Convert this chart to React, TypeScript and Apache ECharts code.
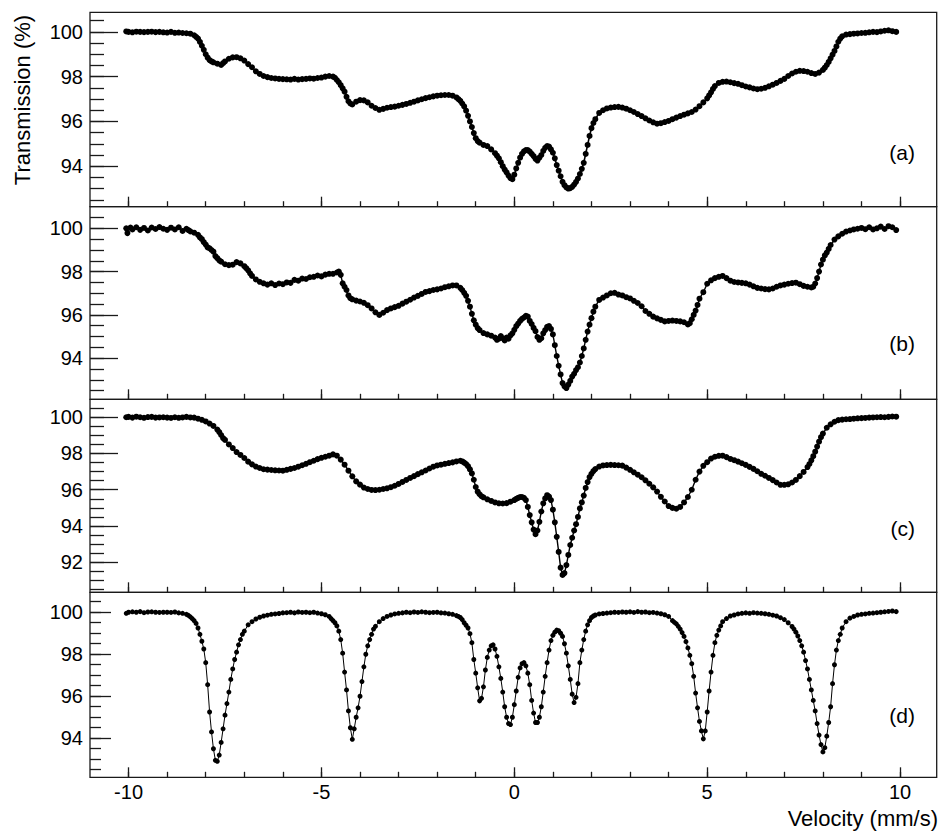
import { useEffect, useRef } from "react";
import * as echarts from "echarts";

// Mössbauer spectra: [velocity (mm/s), transmission (%)]
const spectrumA: [number, number][] = [
  [-10.06,100.02],[-10.0,100.0],[-9.9,99.98],[-9.8,100.01],[-9.7,100.0],[-9.6,99.99],[-9.5,100.0],[-9.4,100.01],[-9.3,99.99],[-9.2,100.0],
  [-9.1,99.98],[-9.0,99.97],[-8.9,100.0],[-8.8,99.96],[-8.7,99.97],[-8.6,99.95],[-8.5,99.94],[-8.4,99.92],[-8.3,99.85],[-8.25,99.78],
  [-8.2,99.7],[-8.15,99.55],[-8.1,99.38],[-8.05,99.2],[-8.0,99.0],[-7.95,98.85],[-7.9,98.74],[-7.85,98.68],[-7.8,98.64],[-7.7,98.58],
  [-7.6,98.52],[-7.55,98.6],[-7.5,98.68],[-7.4,98.8],[-7.3,98.86],[-7.2,98.87],[-7.1,98.82],[-7.0,98.72],[-6.9,98.56],[-6.8,98.42],
  [-6.7,98.24],[-6.6,98.12],[-6.5,98.03],[-6.4,97.98],[-6.3,97.94],[-6.2,97.92],[-6.1,97.9],[-6.0,97.89],[-5.9,97.88],[-5.8,97.87],
  [-5.7,97.9],[-5.6,97.87],[-5.5,97.89],[-5.4,97.9],[-5.3,97.92],[-5.2,97.91],[-5.1,97.94],[-5.0,97.96],[-4.9,98.0],[-4.8,98.03],
  [-4.7,98.0],[-4.65,97.95],[-4.6,97.85],[-4.55,97.75],[-4.5,97.62],[-4.45,97.48],[-4.4,97.33],[-4.35,97.1],[-4.3,96.9],[-4.25,96.8],
  [-4.2,96.76],[-4.1,96.88],[-4.0,96.95],[-3.9,96.94],[-3.8,96.85],[-3.7,96.7],[-3.6,96.6],[-3.5,96.52],[-3.4,96.56],[-3.3,96.61],
  [-3.2,96.64],[-3.1,96.66],[-3.0,96.7],[-2.9,96.74],[-2.8,96.78],[-2.7,96.83],[-2.6,96.88],[-2.5,96.94],[-2.4,96.99],[-2.3,97.04],
  [-2.2,97.08],[-2.1,97.12],[-2.0,97.15],[-1.9,97.17],[-1.8,97.18],[-1.7,97.18],[-1.6,97.15],[-1.5,97.07],[-1.45,97.0],[-1.4,96.92],
  [-1.35,96.8],[-1.3,96.67],[-1.25,96.48],[-1.2,96.25],[-1.15,96.0],[-1.1,95.75],[-1.05,95.48],[-1.0,95.25],[-0.95,95.12],[-0.9,95.05],
  [-0.8,94.95],[-0.7,94.9],[-0.6,94.75],[-0.5,94.58],[-0.45,94.47],[-0.4,94.35],[-0.35,94.18],[-0.3,94.0],[-0.25,93.85],[-0.2,93.72],
  [-0.15,93.58],[-0.1,93.47],[-0.05,93.42],[0.0,93.62],[0.05,93.9],[0.1,94.15],[0.15,94.38],[0.2,94.55],[0.25,94.66],[0.3,94.72],
  [0.35,94.72],[0.4,94.65],[0.45,94.55],[0.5,94.45],[0.55,94.33],[0.6,94.25],[0.65,94.38],[0.7,94.5],[0.75,94.68],[0.8,94.82],
  [0.85,94.9],[0.9,94.88],[0.95,94.75],[1.0,94.6],[1.05,94.35],[1.1,94.05],[1.15,93.8],[1.2,93.55],[1.25,93.3],[1.3,93.15],
  [1.35,93.05],[1.4,93.0],[1.45,93.02],[1.5,93.08],[1.55,93.18],[1.6,93.3],[1.65,93.45],[1.7,93.65],[1.75,93.88],[1.8,94.15],
  [1.85,94.55],[1.9,94.95],[1.95,95.35],[2.0,95.7],[2.05,95.93],[2.1,96.1],[2.2,96.38],[2.3,96.5],[2.4,96.58],[2.5,96.62],
  [2.6,96.64],[2.7,96.65],[2.8,96.62],[2.9,96.57],[3.0,96.5],[3.1,96.42],[3.2,96.33],[3.3,96.24],[3.4,96.14],[3.5,96.04],
  [3.6,95.96],[3.7,95.9],[3.8,95.92],[3.9,95.97],[4.0,96.02],[4.1,96.1],[4.2,96.17],[4.3,96.24],[4.4,96.3],[4.5,96.36],
  [4.6,96.42],[4.7,96.53],[4.8,96.68],[4.9,96.85],[5.0,97.03],[5.05,97.16],[5.1,97.3],[5.15,97.45],[5.2,97.58],[5.3,97.72],
  [5.4,97.77],[5.5,97.78],[5.6,97.75],[5.7,97.71],[5.8,97.68],[5.9,97.62],[6.0,97.56],[6.1,97.52],[6.2,97.47],[6.3,97.44],
  [6.4,97.46],[6.5,97.5],[6.6,97.57],[6.7,97.64],[6.8,97.72],[6.9,97.81],[7.0,97.9],[7.1,98.03],[7.2,98.14],[7.3,98.22],
  [7.4,98.26],[7.5,98.25],[7.6,98.22],[7.7,98.16],[7.8,98.12],[7.9,98.18],[8.0,98.3],[8.05,98.4],[8.1,98.52],[8.15,98.66],
  [8.2,98.82],[8.25,98.98],[8.3,99.15],[8.35,99.35],[8.4,99.56],[8.45,99.7],[8.5,99.8],[8.6,99.88],[8.7,99.9],[8.8,99.92],
  [8.9,99.93],[9.0,99.95],[9.1,99.96],[9.2,99.98],[9.3,100.0],[9.4,99.99],[9.5,100.02],[9.6,100.05],[9.7,100.07],[9.8,100.03],
  [9.9,100.0],
];

const spectrumB: [number, number][] = [
  [-10.06,100.0],[-10.03,99.78],[-9.95,100.04],[-9.9,99.95],[-9.8,100.05],[-9.7,99.93],[-9.6,100.02],[-9.5,99.9],[-9.4,100.04],[-9.3,99.97],
  [-9.2,100.06],[-9.1,99.98],[-9.0,99.93],[-8.9,100.03],[-8.8,99.95],[-8.7,100.05],[-8.6,99.88],[-8.5,99.98],[-8.45,99.92],[-8.4,99.86],
  [-8.3,99.8],[-8.2,99.7],[-8.15,99.58],[-8.1,99.5],[-8.05,99.36],[-8.0,99.25],[-7.95,99.12],[-7.9,99.08],[-7.85,99.0],[-7.8,98.92],
  [-7.75,98.72],[-7.7,98.62],[-7.65,98.52],[-7.6,98.46],[-7.5,98.34],[-7.4,98.3],[-7.3,98.32],[-7.2,98.44],[-7.1,98.38],[-7.0,98.25],
  [-6.95,98.16],[-6.9,98.06],[-6.85,97.92],[-6.8,97.8],[-6.7,97.64],[-6.6,97.53],[-6.5,97.46],[-6.4,97.4],[-6.3,97.46],[-6.2,97.38],
  [-6.1,97.45],[-6.0,97.42],[-5.9,97.5],[-5.8,97.48],[-5.7,97.62],[-5.6,97.58],[-5.5,97.68],[-5.4,97.66],[-5.3,97.74],[-5.2,97.76],
  [-5.1,97.82],[-5.0,97.78],[-4.9,97.86],[-4.8,97.9],[-4.7,97.9],[-4.6,97.96],[-4.55,98.0],[-4.5,97.85],[-4.45,97.46],[-4.4,97.3],
  [-4.35,97.15],[-4.3,96.9],[-4.25,96.77],[-4.2,96.72],[-4.1,96.66],[-4.0,96.62],[-3.9,96.56],[-3.8,96.45],[-3.7,96.3],[-3.6,96.12],
  [-3.5,96.0],[-3.4,96.1],[-3.3,96.22],[-3.2,96.3],[-3.1,96.36],[-3.0,96.42],[-2.9,96.52],[-2.8,96.61],[-2.7,96.7],[-2.6,96.8],
  [-2.5,96.88],[-2.4,96.97],[-2.3,97.06],[-2.2,97.1],[-2.1,97.15],[-2.0,97.18],[-1.9,97.22],[-1.8,97.28],[-1.7,97.32],[-1.6,97.36],
  [-1.5,97.36],[-1.4,97.25],[-1.35,97.15],[-1.3,97.02],[-1.25,96.88],[-1.2,96.65],[-1.15,96.38],[-1.1,96.05],[-1.05,95.75],[-1.0,95.55],
  [-0.95,95.39],[-0.9,95.3],[-0.8,95.16],[-0.7,95.1],[-0.6,95.04],[-0.5,94.95],[-0.45,94.85],[-0.4,94.9],[-0.35,95.02],[-0.3,94.92],
  [-0.25,94.82],[-0.2,94.95],[-0.15,94.9],[-0.1,95.05],[-0.05,95.15],[0.0,95.31],[0.05,95.48],[0.1,95.6],[0.15,95.72],[0.2,95.82],
  [0.25,95.88],[0.3,95.96],[0.35,95.92],[0.4,95.72],[0.45,95.58],[0.5,95.4],[0.55,95.25],[0.6,94.98],[0.65,94.85],[0.7,94.92],
  [0.75,95.15],[0.8,95.3],[0.85,95.45],[0.9,95.48],[0.95,95.35],[1.0,95.1],[1.05,94.6],[1.1,94.1],[1.15,93.65],[1.2,93.25],
  [1.25,92.85],[1.3,92.7],[1.35,92.62],[1.4,92.78],[1.45,92.95],[1.5,93.15],[1.55,93.28],[1.6,93.45],[1.65,93.58],[1.7,93.8],
  [1.75,94.1],[1.8,94.45],[1.85,94.85],[1.9,95.23],[1.95,95.55],[2.0,95.85],[2.05,96.15],[2.1,96.38],[2.2,96.69],[2.3,96.8],
  [2.4,96.9],[2.5,97.0],[2.6,97.02],[2.7,96.94],[2.8,96.9],[2.9,96.82],[3.0,96.76],[3.1,96.65],[3.2,96.55],[3.3,96.4],
  [3.4,96.18],[3.5,96.05],[3.6,95.92],[3.7,95.84],[3.8,95.77],[3.9,95.7],[4.0,95.72],[4.1,95.74],[4.2,95.72],[4.3,95.7],
  [4.4,95.66],[4.5,95.56],[4.55,95.62],[4.6,95.8],[4.65,96.0],[4.7,96.2],[4.75,96.46],[4.8,96.75],[4.9,97.05],[5.0,97.44],
  [5.1,97.6],[5.2,97.7],[5.3,97.76],[5.4,97.8],[5.5,97.7],[5.6,97.58],[5.7,97.52],[5.8,97.5],[5.9,97.48],[6.0,97.46],
  [6.1,97.4],[6.2,97.32],[6.3,97.25],[6.4,97.22],[6.5,97.19],[6.6,97.18],[6.7,97.22],[6.8,97.3],[6.9,97.36],[7.0,97.4],
  [7.1,97.44],[7.2,97.47],[7.3,97.49],[7.4,97.42],[7.5,97.34],[7.6,97.3],[7.7,97.27],[7.75,97.3],[7.8,97.45],[7.85,97.7],
  [7.9,98.0],[7.95,98.33],[8.0,98.55],[8.05,98.75],[8.1,98.88],[8.15,99.05],[8.2,99.23],[8.3,99.48],[8.4,99.63],[8.5,99.75],
  [8.6,99.85],[8.7,99.9],[8.8,99.95],[8.9,99.98],[9.0,100.02],[9.1,99.96],[9.2,100.05],[9.3,99.95],[9.4,100.0],[9.5,100.08],
  [9.6,99.97],[9.7,100.1],[9.8,100.05],[9.9,99.92],
];

const spectrumC: [number, number][] = [
  [-10.06,100.0],[-10.0,100.02],[-9.9,99.98],[-9.8,100.03],[-9.7,100.0],[-9.6,99.97],[-9.5,100.01],[-9.4,100.02],[-9.3,99.98],[-9.2,99.99],
  [-9.1,100.0],[-9.0,99.98],[-8.9,99.96],[-8.8,100.0],[-8.7,99.97],[-8.6,99.99],[-8.5,100.02],[-8.4,99.99],[-8.3,99.98],[-8.2,99.92],
  [-8.1,99.86],[-8.0,99.77],[-7.9,99.65],[-7.8,99.52],[-7.7,99.32],[-7.65,99.18],[-7.6,99.02],[-7.55,98.85],[-7.5,98.75],[-7.4,98.5],
  [-7.3,98.3],[-7.2,98.08],[-7.1,97.92],[-7.0,97.75],[-6.9,97.55],[-6.8,97.4],[-6.7,97.28],[-6.6,97.2],[-6.5,97.13],[-6.4,97.11],
  [-6.3,97.09],[-6.2,97.07],[-6.1,97.06],[-6.0,97.05],[-5.9,97.1],[-5.8,97.15],[-5.7,97.2],[-5.6,97.27],[-5.5,97.35],[-5.4,97.43],
  [-5.3,97.52],[-5.2,97.6],[-5.1,97.69],[-5.0,97.76],[-4.9,97.82],[-4.8,97.88],[-4.7,97.95],[-4.6,97.88],[-4.5,97.66],[-4.4,97.38],
  [-4.3,97.05],[-4.2,96.74],[-4.1,96.46],[-4.0,96.28],[-3.9,96.12],[-3.8,96.04],[-3.7,95.99],[-3.6,95.98],[-3.5,96.0],[-3.4,96.04],
  [-3.3,96.08],[-3.2,96.14],[-3.1,96.22],[-3.0,96.32],[-2.9,96.43],[-2.8,96.54],[-2.7,96.65],[-2.6,96.75],[-2.5,96.86],[-2.4,96.96],
  [-2.3,97.06],[-2.2,97.17],[-2.1,97.27],[-2.0,97.34],[-1.9,97.38],[-1.8,97.43],[-1.7,97.47],[-1.6,97.51],[-1.5,97.56],[-1.4,97.6],
  [-1.35,97.56],[-1.3,97.5],[-1.25,97.42],[-1.2,97.3],[-1.15,97.12],[-1.1,96.9],[-1.05,96.55],[-1.0,96.15],[-0.95,95.89],[-0.9,95.75],
  [-0.85,95.64],[-0.8,95.58],[-0.7,95.47],[-0.6,95.38],[-0.5,95.3],[-0.4,95.25],[-0.3,95.24],[-0.2,95.26],[-0.1,95.34],[0.0,95.43],
  [0.05,95.5],[0.1,95.55],[0.15,95.6],[0.2,95.6],[0.25,95.55],[0.3,95.43],[0.35,95.05],[0.4,94.6],[0.45,94.2],[0.5,93.8],
  [0.55,93.55],[0.6,93.75],[0.65,94.23],[0.7,94.8],[0.75,95.25],[0.8,95.52],[0.85,95.7],[0.9,95.62],[0.95,95.43],[1.0,94.9],
  [1.05,94.2],[1.1,93.4],[1.15,92.57],[1.2,91.7],[1.25,91.3],[1.3,91.4],[1.35,91.84],[1.4,92.4],[1.45,92.95],[1.5,93.35],
  [1.55,93.75],[1.6,94.1],[1.65,94.5],[1.7,94.97],[1.75,95.3],[1.8,95.68],[1.85,96.1],[1.9,96.42],[1.95,96.7],[2.0,96.88],
  [2.05,97.03],[2.1,97.14],[2.2,97.28],[2.3,97.34],[2.4,97.36],[2.5,97.37],[2.6,97.36],[2.7,97.35],[2.8,97.33],[2.9,97.22],
  [3.0,97.1],[3.1,96.96],[3.2,96.83],[3.3,96.69],[3.4,96.52],[3.5,96.33],[3.6,96.13],[3.7,95.9],[3.8,95.61],[3.9,95.35],
  [4.0,95.1],[4.1,95.0],[4.2,94.95],[4.3,95.05],[4.4,95.3],[4.5,95.6],[4.6,96.0],[4.7,96.55],[4.8,97.0],[4.9,97.32],
  [5.0,97.52],[5.1,97.72],[5.2,97.82],[5.3,97.87],[5.4,97.88],[5.5,97.8],[5.6,97.7],[5.7,97.63],[5.8,97.55],[5.9,97.46],
  [6.0,97.37],[6.1,97.26],[6.2,97.15],[6.3,97.02],[6.4,96.88],[6.5,96.77],[6.6,96.65],[6.7,96.53],[6.8,96.4],[6.9,96.27],
  [7.0,96.27],[7.1,96.3],[7.2,96.4],[7.3,96.54],[7.4,96.75],[7.5,96.98],[7.6,97.25],[7.65,97.42],[7.7,97.62],[7.75,97.85],
  [7.8,98.1],[7.85,98.38],[7.9,98.65],[7.95,98.9],[8.0,99.1],[8.1,99.42],[8.2,99.61],[8.3,99.75],[8.4,99.84],[8.5,99.87],
  [8.6,99.89],[8.7,99.9],[8.8,99.92],[8.9,99.94],[9.0,99.95],[9.1,99.96],[9.2,99.98],[9.3,99.99],[9.4,100.0],[9.5,100.01],
  [9.6,100.0],[9.7,100.02],[9.8,100.04],[9.9,100.03],
];

const spectrumD: [number, number][] = [
  [-10.06,99.95],[-10.0,100.0],[-9.9,100.02],[-9.8,100.0],[-9.7,100.03],[-9.6,99.98],[-9.5,100.01],[-9.4,100.02],[-9.3,100.0],[-9.2,99.99],
  [-9.1,100.0],[-9.0,100.0],[-8.9,99.99],[-8.8,100.01],[-8.7,99.97],[-8.6,99.95],[-8.5,99.9],[-8.45,99.85],[-8.4,99.78],[-8.35,99.7],
  [-8.3,99.6],[-8.25,99.47],[-8.2,99.25],[-8.15,98.95],[-8.1,98.62],[-8.05,98.25],[-8.0,97.6],[-7.95,96.55],[-7.9,95.25],[-7.85,94.3],
  [-7.8,93.5],[-7.75,92.95],[-7.7,92.9],[-7.65,93.2],[-7.6,93.8],[-7.55,94.45],[-7.5,95.1],[-7.45,95.65],[-7.4,96.2],[-7.35,96.8],
  [-7.3,97.3],[-7.25,97.75],[-7.2,98.1],[-7.15,98.45],[-7.1,98.7],[-7.05,98.95],[-7.0,99.1],[-6.9,99.4],[-6.8,99.55],[-6.7,99.68],
  [-6.6,99.76],[-6.5,99.82],[-6.4,99.86],[-6.3,99.9],[-6.2,99.92],[-6.1,99.94],[-6.0,99.97],[-5.9,99.98],[-5.8,100.0],[-5.7,99.97],
  [-5.6,100.01],[-5.5,99.99],[-5.4,100.0],[-5.3,99.98],[-5.2,100.0],[-5.1,99.96],[-5.0,99.93],[-4.9,99.88],[-4.8,99.8],[-4.75,99.7],
  [-4.7,99.6],[-4.65,99.5],[-4.6,99.35],[-4.55,99.1],[-4.5,98.7],[-4.45,98.05],[-4.4,97.15],[-4.35,96.3],[-4.3,95.3],[-4.25,94.5],
  [-4.2,93.95],[-4.15,94.45],[-4.1,95.0],[-4.05,95.45],[-4.0,96.0],[-3.95,96.7],[-3.9,97.4],[-3.85,98.0],[-3.8,98.4],[-3.75,98.7],
  [-3.7,98.95],[-3.65,99.2],[-3.6,99.33],[-3.5,99.55],[-3.4,99.7],[-3.3,99.8],[-3.2,99.87],[-3.1,99.92],[-3.0,99.95],[-2.9,99.97],
  [-2.8,100.0],[-2.7,99.98],[-2.6,100.01],[-2.5,99.99],[-2.4,100.02],[-2.3,100.0],[-2.2,99.98],[-2.1,99.99],[-2.0,100.0],[-1.9,99.97],
  [-1.8,99.96],[-1.7,99.93],[-1.6,99.9],[-1.5,99.84],[-1.45,99.8],[-1.4,99.75],[-1.35,99.65],[-1.3,99.5],[-1.25,99.38],[-1.2,99.25],
  [-1.15,98.98],[-1.1,98.55],[-1.05,97.75],[-1.0,97.1],[-0.95,96.4],[-0.9,95.78],[-0.85,95.9],[-0.8,96.45],[-0.75,97.25],[-0.7,97.85],
  [-0.65,98.2],[-0.6,98.4],[-0.55,98.45],[-0.5,98.25],[-0.45,97.9],[-0.4,97.4],[-0.35,96.85],[-0.3,96.2],[-0.25,95.5],[-0.2,95.0],
  [-0.15,94.7],[-0.1,94.65],[-0.05,95.0],[0.0,95.6],[0.05,96.25],[0.1,96.9],[0.15,97.35],[0.2,97.55],[0.25,97.6],[0.3,97.45],
  [0.35,97.1],[0.4,96.55],[0.45,95.8],[0.5,95.2],[0.55,94.75],[0.6,94.75],[0.65,95.0],[0.7,95.5],[0.75,96.2],[0.8,96.95],
  [0.85,97.6],[0.9,98.2],[0.95,98.65],[1.0,98.9],[1.05,99.05],[1.1,99.15],[1.15,99.12],[1.2,99.0],[1.25,98.85],[1.3,98.5],
  [1.35,98.05],[1.4,97.45],[1.45,96.8],[1.5,96.1],[1.55,95.7],[1.6,95.95],[1.65,96.6],[1.7,97.6],[1.75,98.2],[1.8,98.7],
  [1.85,99.1],[1.9,99.4],[1.95,99.6],[2.0,99.75],[2.05,99.82],[2.1,99.87],[2.2,99.92],[2.3,99.94],[2.4,99.96],[2.5,99.98],
  [2.6,100.0],[2.7,99.99],[2.8,100.01],[2.9,100.0],[3.0,100.02],[3.1,99.99],[3.2,100.03],[3.3,100.0],[3.4,100.01],[3.5,99.98],
  [3.6,99.99],[3.7,99.96],[3.8,99.93],[3.9,99.88],[4.0,99.8],[4.1,99.6],[4.15,99.52],[4.2,99.45],[4.25,99.33],[4.3,99.2],
  [4.35,99.03],[4.4,98.85],[4.45,98.6],[4.5,98.3],[4.55,97.95],[4.6,97.55],[4.65,96.95],[4.7,96.15],[4.75,95.45],[4.8,94.8],
  [4.85,94.35],[4.9,93.97],[4.95,94.35],[5.0,95.25],[5.05,96.25],[5.1,97.15],[5.15,97.95],[5.2,98.55],[5.25,98.9],[5.3,99.15],
  [5.35,99.35],[5.4,99.55],[5.5,99.7],[5.6,99.82],[5.7,99.87],[5.8,99.92],[5.9,99.95],[6.0,99.97],[6.1,99.95],[6.2,99.98],
  [6.3,99.96],[6.4,99.95],[6.5,99.93],[6.6,99.9],[6.7,99.86],[6.8,99.82],[6.9,99.74],[7.0,99.65],[7.1,99.5],[7.2,99.32],
  [7.25,99.2],[7.3,99.05],[7.35,98.87],[7.4,98.65],[7.45,98.4],[7.5,98.1],[7.55,97.7],[7.6,97.3],[7.65,96.8],[7.7,96.3],
  [7.75,95.8],[7.8,95.3],[7.85,94.7],[7.9,94.15],[7.95,93.7],[8.0,93.35],[8.05,93.55],[8.1,94.1],[8.15,94.75],[8.2,95.5],
  [8.25,96.6],[8.3,97.5],[8.35,98.2],[8.4,98.65],[8.45,98.95],[8.5,99.25],[8.6,99.55],[8.7,99.72],[8.8,99.8],[8.9,99.87],
  [9.0,99.9],[9.1,99.92],[9.2,99.95],[9.3,99.96],[9.4,99.98],[9.5,100.0],[9.6,100.02],[9.7,100.04],[9.8,100.06],[9.9,100.03],
];

const xMajorTicks = [-10, -5, 0, 5, 10];
const xMinorTicks = [-10, -9, -8, -7, -6, -5, -4, -3, -2, -1, 0, 1, 2, 3, 4, 5, 6, 7, 8, 9, 10];
const yMajorTicks = [94, 96, 98, 100];
const yMajorTicksC = [92, 94, 96, 98, 100];
const yMinorTicks = [92.5, 93, 93.5, 94, 94.5, 95, 95.5, 96, 96.5, 97, 97.5, 98, 98.5, 99, 99.5, 100, 100.5];
const yMinorTicksC = [90.5, 91, 91.5, 92, 92.5, 93, 93.5, 94, 94.5, 95, 95.5, 96, 96.5, 97, 97.5, 98, 98.5, 99, 99.5, 100, 100.5];
const panelLabels = ["(a)", "(b)", "(c)", "(d)"];
const yTitle = "Transmission (%)";
const xTitle = "Velocity (mm/s)";

const FONT = "'Liberation Sans', Arial, Helvetica, sans-serif";
const INK = "#1a1a1a";

export default function App() {
  const ref = useRef<HTMLDivElement>(null);

  useEffect(() => {
    if (!ref.current) return;
    const chart = echarts.init(ref.current, null, { renderer: "svg" });

    const panels = [
      { data: spectrumA, top: 12.3, height: 194.4, ymin: 92.19, ymax: 100.875, major: yMajorTicks, minor: yMinorTicks, yLen: 28, yMinLen: 14, labelY: 152, dot: 6, lw: 1.6 },
      { data: spectrumB, top: 206.7, height: 192.6, ymin: 92.1, ymax: 101.0, major: yMajorTicks, minor: yMinorTicks, yLen: 28, yMinLen: 14, labelY: 343, dot: 6, lw: 1.4 },
      { data: spectrumC, top: 399.3, height: 193.0, ymin: 90.34, ymax: 100.99, major: yMajorTicksC, minor: yMinorTicksC, yLen: 28, yMinLen: 14, labelY: 528, dot: 6, lw: 1.4 },
      { data: spectrumD, top: 592.3, height: 185.0, ymin: 92.14, ymax: 100.95, major: yMajorTicks, minor: yMinorTicks, yLen: 21, yMinLen: 11, labelY: 715, dot: 5, lw: 1 },
    ];

    const grid: any[] = [];
    const xAxis: any[] = [];
    const yAxis: any[] = [];
    const series: any[] = [];
    const tickLine = { color: INK, width: 1.3 };

    panels.forEach((p, i) => {
      grid.push({
        left: 90, top: p.top, width: 846.7, height: p.height,
        show: true, borderColor: INK, borderWidth: 1.3, backgroundColor: "transparent",
      });
      const baseX = {
        type: "value", gridIndex: i, min: -11, max: 10.95, position: "bottom",
        axisLine: { show: false, onZero: false }, splitLine: { show: false },
      };
      xAxis.push({
        ...baseX,
        axisTick: { show: true, inside: true, length: 10, customValues: xMajorTicks, lineStyle: tickLine },
        axisLabel: {
          show: i === 3, customValues: xMajorTicks, fontSize: 20, fontFamily: FONT, color: "#000", margin: 5,
        },
      });
      xAxis.push({
        ...baseX,
        axisTick: { show: true, inside: true, length: 5.5, customValues: xMinorTicks, lineStyle: tickLine },
        axisLabel: { show: false },
      });
      const baseY = {
        type: "value", gridIndex: i, min: p.ymin, max: p.ymax, position: "left",
        axisLine: { show: false, onZero: false }, splitLine: { show: false },
      };
      yAxis.push({
        ...baseY,
        axisTick: { show: true, inside: true, length: p.yLen, customValues: p.major, lineStyle: tickLine },
        axisLabel: { show: true, customValues: p.major, fontSize: 20, fontFamily: FONT, color: "#000", margin: 7 },
      });
      yAxis.push({
        ...baseY,
        axisTick: { show: true, inside: true, length: p.yMinLen, customValues: p.minor, lineStyle: tickLine },
        axisLabel: { show: false },
      });
      series.push({
        type: "line",
        xAxisIndex: 2 * i,
        yAxisIndex: 2 * i,
        data: p.data,
        symbol: "circle",
        symbolSize: p.dot,
        showSymbol: true,
        showAllSymbol: true,
        itemStyle: { color: "#000" },
        lineStyle: { color: "#000", width: p.lw },
        silent: true,
      });
    });

    const graphic: any[] = panels.map((p, i) => ({
      type: "text",
      x: 915,
      y: p.labelY,
      style: { text: panelLabels[i], fontSize: 21, fontFamily: FONT, fill: "#000", align: "right", verticalAlign: "middle" },
    }));
    graphic.push({
      type: "text", x: 22, y: 100, rotation: Math.PI / 2,
      style: { text: yTitle, fontSize: 22, fontFamily: FONT, fill: "#000", align: "center", verticalAlign: "middle" },
    });
    graphic.push({
      type: "text", x: 938, y: 818,
      style: { text: xTitle, fontSize: 22, fontFamily: FONT, fill: "#000", align: "right", verticalAlign: "middle" },
    });

    chart.setOption({
      animation: false,
      backgroundColor: "#fff",
      grid, xAxis, yAxis, series, graphic,
    });

    return () => chart.dispose();
  }, []);

  return (
    <div
      ref={ref}
      style={{ position: "fixed", left: 0, top: 0, width: 939, height: 831, background: "#fff" }}
    />
  );
}
